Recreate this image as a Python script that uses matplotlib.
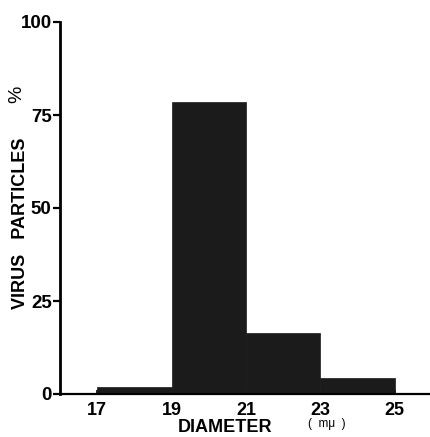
import matplotlib.pyplot as plt

# size distribution of virus particle diameters (percent per 2 m-mu bin)
bin_edges = [17, 19, 21, 23, 25]
percent = [2, 78.5, 16.5, 4.3]
x_ticks = [17, 19, 21, 23, 25]
y_ticks = [0, 25, 50, 75, 100]

W, H = 430, 437
fig = plt.figure(figsize=(W / 100, H / 100), dpi=100)
ax = fig.add_axes([60 / W, 1 - 394 / H, 370 / W, 372 / H])

lefts = bin_edges[:-1]
widths = [b - a for a, b in zip(bin_edges[:-1], bin_edges[1:])]
ax.bar(lefts, percent, width=widths, align="edge", color="#1b1b1b",
       edgecolor="#1b1b1b", linewidth=0.5, zorder=2)

ax.set_xlim(16, 25.95)
ax.set_ylim(0, 100)
for side in ("top", "right"):
    ax.spines[side].set_visible(False)
ax.spines["left"].set_linewidth(2)
ax.spines["bottom"].set_linewidth(1.6)
ax.spines["left"].set_zorder(3)

bold = dict(family="Liberation Sans", weight="bold")
ax.set_yticks(y_ticks)
ax.set_yticklabels([str(v) for v in y_ticks], fontsize=13.5, **bold)
ax.set_xticks(x_ticks)
ax.set_xticklabels([str(v) for v in x_ticks], fontsize=13, **bold)
ax.tick_params(axis="y", direction="out", length=5, width=1.6, pad=1)
ax.tick_params(axis="x", direction="in", length=3, width=1.2, pad=6)

# axis titles
fig.text(21 / W, 1 - 223 / H, "VIRUS   PARTICLES", rotation=90,
         ha="center", va="center", fontsize=13, **bold)
fig.text(17 / W, 1 - 94 / H, "%", rotation=90,
         ha="center", va="center", fontsize=14, family="Liberation Sans")
fig.text(225 / W, 1 - 428 / H, "DIAMETER", ha="center", va="center",
         fontsize=13, **bold)
fig.text(327 / W, 1 - 424 / H, "(  m\u03bc  )", ha="center", va="center",
         fontsize=8.5, family="Liberation Sans")

fig.savefig("out.png", dpi=100, facecolor="white")
